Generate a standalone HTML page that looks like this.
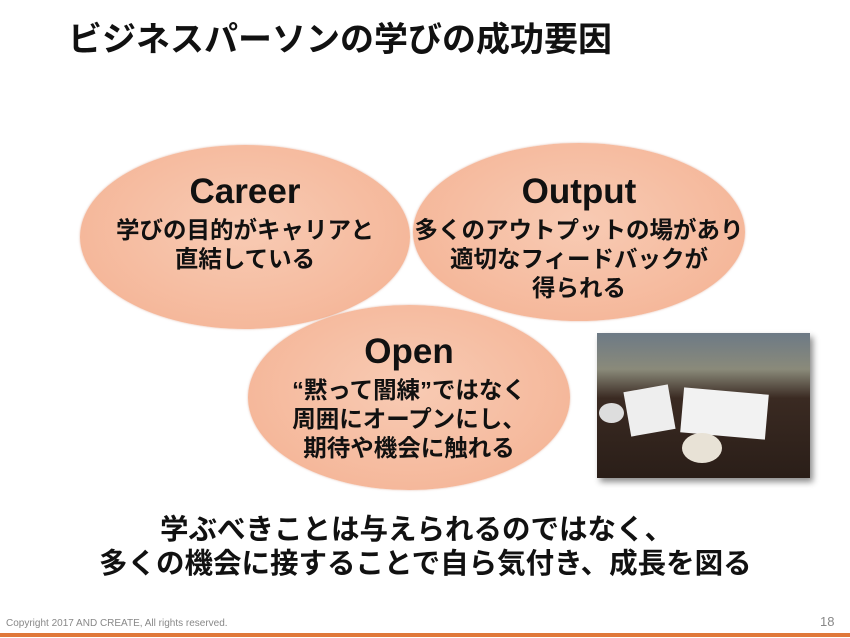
<!DOCTYPE html>
<html><head><meta charset="utf-8"><style>
body{margin:0;width:850px;height:638px;background:#fff;position:relative;overflow:hidden;font-family:"Liberation Sans","Noto Sans CJK JP",sans-serif}
.t{position:absolute;white-space:nowrap}
.el{position:absolute;border-radius:50%;background:radial-gradient(ellipse at 50% 45%,#f8cbb4 0%,#f5b89b 70%,#f0a888 100%);box-shadow:0 0 2px rgba(200,120,90,.5)}
.c{position:absolute;text-align:center;font-weight:bold;color:#111;line-height:29px;font-size:23.5px;white-space:nowrap}
.c b{display:block;font-size:35px;line-height:44px;margin-bottom:2px}
</style></head><body>
<div class="t" style="left:68px;top:12px;font-size:34px;font-weight:bold;color:#111">ビジネスパーソンの学びの成功要因</div>

<div class="el" style="left:80px;top:145px;width:330px;height:184px"></div>
<div class="el" style="left:413px;top:143px;width:332px;height:178px"></div>
<div class="el" style="left:248px;top:305px;width:322px;height:185px"></div>

<div class="c" style="left:80px;width:330px;top:170px"><b>Career</b>学びの目的がキャリアと<br>直結している</div>
<div class="c" style="left:413px;width:332px;top:170px"><b>Output</b>多くのアウトプットの場があり<br>適切なフィードバックが<br>得られる</div>
<div class="c" style="left:248px;width:322px;top:330px"><b>Open</b>“黙って闇練”ではなく<br>周囲にオープンにし、<br>期待や機会に触れる</div>

<div style="position:absolute;left:597px;top:333px;width:213px;height:145px;background:linear-gradient(180deg,#6d7a86 0%,#8a8a7a 25%,#3a2a22 45%,#2a1e18 100%);box-shadow:3px 4px 6px rgba(0,0,0,.45)">
<div style="position:absolute;left:30px;top:55px;width:45px;height:45px;background:#eee;transform:rotate(-10deg)"></div>
<div style="position:absolute;left:85px;top:58px;width:85px;height:45px;background:#f2f2f2;transform:rotate(5deg)"></div>
<div style="position:absolute;left:85px;top:100px;width:40px;height:30px;border-radius:50%;background:#e8e2d6"></div>
<div style="position:absolute;left:2px;top:70px;width:25px;height:20px;border-radius:50%;background:#ddd"></div>
</div>

<div class="t" style="left:160px;top:507px;font-size:28.5px;font-weight:bold;color:#111">学ぶべきことは与えられるのではなく、</div>
<div class="t" style="left:99px;top:541px;font-size:28.5px;font-weight:bold;color:#111">多くの機会に接することで自ら気付き、成長を図る</div>

<div class="t" style="left:6px;top:618px;font-size:10px;color:#888">Copyright 2017 AND CREATE, All rights reserved.</div>
<div class="t" style="left:820px;top:614px;font-size:13px;color:#888">18</div>
<div style="position:absolute;left:0;top:633px;width:850px;height:4px;background:#e0783a"></div>
</body></html>
